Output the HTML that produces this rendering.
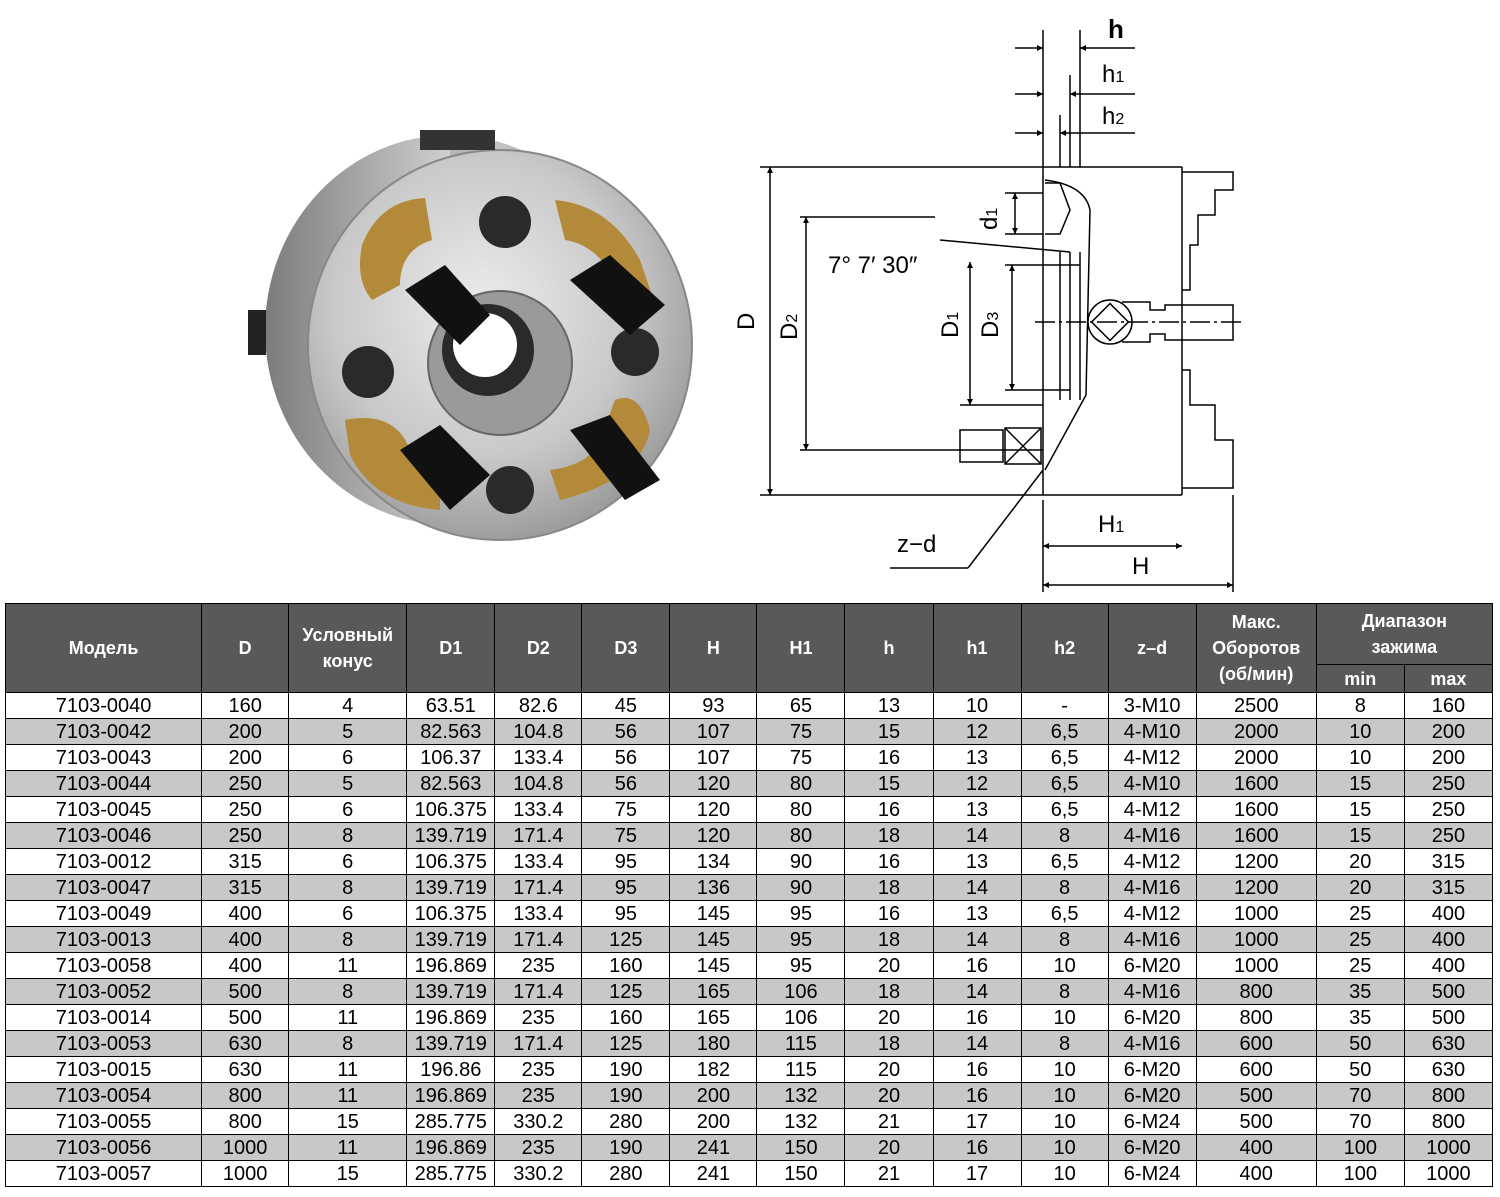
<!DOCTYPE html>
<html><head><meta charset="utf-8">
<style>
body{margin:0;width:1500px;height:1197px;background:#fff;position:relative;overflow:hidden;font-family:"Liberation Sans",Arial,sans-serif}
svg{position:absolute;left:0;top:0}
table{position:absolute;left:5px;top:603px;border-collapse:collapse;table-layout:fixed;width:1488px}
td,th{border:1.6px solid #000;text-align:center;padding:0;font-size:20px;line-height:22px;color:#000;white-space:nowrap;overflow:hidden}
tr.d{height:26px}
th{background:#595959;color:#fff;font-weight:bold;font-size:18px;line-height:26px}
tr.g td{background:#c8c8c8}
</style></head><body>
<svg width="1500" height="600" viewBox="0 0 1500 600">
<defs>
<radialGradient id="face" cx="45%" cy="40%" r="65%"><stop offset="0" stop-color="#ececec"/><stop offset="0.6" stop-color="#c8c8c8"/><stop offset="1" stop-color="#949494"/></radialGradient>
<linearGradient id="side" x1="0" y1="0" x2="1" y2="0"><stop offset="0" stop-color="#7c7c7c"/><stop offset="0.5" stop-color="#cfcfcf"/><stop offset="1" stop-color="#a0a0a0"/></linearGradient>
<marker id="a" viewBox="0 0 10 10" refX="10" refY="5" markerWidth="10" markerHeight="6" orient="auto-start-reverse" markerUnits="userSpaceOnUse"><path d="M0,0 L10,5 L0,10Z" fill="#000"/></marker>
</defs>
<!-- photo -->
<ellipse cx="450" cy="330" rx="185" ry="195" fill="url(#side)"/>
<polygon points="450,135 505,152 505,540 450,525" fill="#b5b5b5"/>
<ellipse cx="500" cy="345" rx="192" ry="195" fill="url(#face)" stroke="#888" stroke-width="2"/>
<path d="M362,245 Q380,200 425,198 L432,240 Q400,250 400,285 L372,300 Q355,280 362,245Z" fill="#b38a3a"/>
<path d="M555,200 Q610,205 640,260 L652,295 L620,290 Q600,245 565,240Z" fill="#b38a3a"/>
<path d="M345,420 Q395,410 410,450 L440,470 L440,510 Q375,505 350,455Z" fill="#b38a3a"/>
<path d="M615,400 Q640,390 650,430 Q640,480 560,500 L550,470 Q590,465 600,440Z" fill="#b38a3a"/>
<circle cx="505" cy="222" r="26" fill="#2a2a2a"/>
<circle cx="368" cy="372" r="26" fill="#2a2a2a"/>
<circle cx="635" cy="352" r="24" fill="#2a2a2a"/>
<circle cx="510" cy="490" r="24" fill="#2a2a2a"/>
<circle cx="500" cy="363" r="72" fill="#9a9a9a" stroke="#666" stroke-width="2"/>
<circle cx="488" cy="350" r="46" fill="#2a2a2a"/>
<circle cx="485" cy="345" r="32" fill="#fff"/>
<g fill="#111">
<polygon points="405,290 445,265 490,315 460,345"/>
<polygon points="570,280 610,255 665,305 630,335"/>
<polygon points="400,450 440,425 490,475 450,510"/>
<polygon points="570,430 610,415 660,480 625,500"/>
</g>
<rect x="248" y="310" width="18" height="45" fill="#222"/>
<rect x="420" y="130" width="75" height="20" fill="#333"/>
<!-- drawing -->
<g stroke="#000" stroke-width="1.5" fill="none">
<line x1="760" y1="167" x2="1182" y2="167"/>
<line x1="760" y1="495" x2="1182" y2="495"/>
<line x1="1043" y1="167" x2="1043" y2="495"/>
<line x1="1182" y1="167" x2="1182" y2="495"/>
<line x1="770" y1="167" x2="770" y2="495" marker-start="url(#a)" marker-end="url(#a)"/>
<line x1="800" y1="217" x2="935" y2="217"/>
<line x1="800" y1="450" x2="1043" y2="450"/>
<line x1="806" y1="217" x2="806" y2="450" marker-start="url(#a)" marker-end="url(#a)"/>
<line x1="960" y1="405" x2="1043" y2="405"/>
<line x1="970" y1="262" x2="970" y2="405" marker-start="url(#a)" marker-end="url(#a)"/>
<line x1="1005" y1="265" x2="1080" y2="265"/>
<line x1="1005" y1="390" x2="1070" y2="390"/>
<line x1="1012" y1="265" x2="1012" y2="390" marker-start="url(#a)" marker-end="url(#a)"/>
<line x1="1005" y1="193" x2="1043" y2="193"/>
<line x1="1005" y1="234" x2="1043" y2="234"/>
<line x1="1015" y1="193" x2="1015" y2="234" marker-start="url(#a)" marker-end="url(#a)"/>
<path d="M1045,183 L1060,183 L1070,210 L1060,234 L1045,234"/>
<path d="M1045,180 Q1085,185 1090,210 L1086,395 L1045,470"/>
<line x1="1060" y1="252" x2="1060" y2="400"/>
<line x1="1070" y1="252" x2="1070" y2="400"/>
<line x1="1080" y1="252" x2="1080" y2="400"/>
<line x1="940" y1="240" x2="1070" y2="252"/>
<line x1="1043" y1="30" x2="1043" y2="167"/>
<line x1="1080" y1="30" x2="1080" y2="167"/>
<line x1="1070" y1="75" x2="1070" y2="167"/>
<line x1="1060" y1="115" x2="1060" y2="167"/>
<line x1="1015" y1="48" x2="1043" y2="48" marker-end="url(#a)"/><line x1="1135" y1="48" x2="1080" y2="48" marker-end="url(#a)"/>
<line x1="1015" y1="94" x2="1043" y2="94" marker-end="url(#a)"/><line x1="1135" y1="94" x2="1070" y2="94" marker-end="url(#a)"/>
<line x1="1015" y1="133" x2="1043" y2="133" marker-end="url(#a)"/><line x1="1135" y1="133" x2="1060" y2="133" marker-end="url(#a)"/>
<path d="M1182,172 L1233,172 L1233,190 L1215,190 L1215,215 L1198,215 L1198,245 L1190,245 L1190,290 L1182,290"/>
<path d="M1182,370 L1190,370 L1190,405 L1215,405 L1215,440 L1233,440 L1233,488 L1182,488"/>
<circle cx="1110" cy="322" r="22"/>
<rect x="1097" y="309" width="26" height="26" transform="rotate(45 1110 322)"/>
<path d="M1122,302 L1150,302 L1150,310 L1165,310 L1165,305 L1233,305 L1233,340 L1165,340 L1165,334 L1150,334 L1150,342 L1122,342"/>
<line x1="1035" y1="322" x2="1245" y2="322" stroke-dasharray="20 4 3 4"/>
<rect x="960" y="430" width="43" height="32"/>
<rect x="1005" y="428" width="36" height="36"/>
<line x1="1005" y1="428" x2="1041" y2="464"/><line x1="1041" y1="428" x2="1005" y2="464"/>
<line x1="1043" y1="470" x2="968" y2="568"/>
<line x1="968" y1="568" x2="890" y2="568"/>
<line x1="1043" y1="500" x2="1043" y2="592"/>
<line x1="1233" y1="495" x2="1233" y2="592"/>
<line x1="1043" y1="546" x2="1182" y2="546" marker-start="url(#a)" marker-end="url(#a)"/>
<line x1="1043" y1="585" x2="1233" y2="585" marker-start="url(#a)" marker-end="url(#a)"/>
</g>
<g fill="#000" font-family="Liberation Sans,Arial,sans-serif" font-size="24">
<text x="1108" y="38" font-weight="bold" font-size="26">h</text>
<text x="1102" y="82">h<tspan font-size="16">1</tspan></text>
<text x="1102" y="124">h<tspan font-size="16">2</tspan></text>
<text x="828" y="273">7°  7′ 30″</text>
<text x="1098" y="532">H<tspan font-size="16">1</tspan></text>
<text x="1132" y="574">H</text>
<text x="897" y="552">z−d</text>
<text transform="translate(754 330) rotate(-90)">D</text>
<text transform="translate(797 340) rotate(-90)">D<tspan font-size="16">2</tspan></text>
<text transform="translate(958 338) rotate(-90)">D<tspan font-size="16">1</tspan></text>
<text transform="translate(998 338) rotate(-90)">D<tspan font-size="16">3</tspan></text>
<text transform="translate(997 230) rotate(-90)">d<tspan font-size="16">1</tspan></text>
</g>
</svg>
<table>
<colgroup><col style="width:196px"><col style="width:87px"><col style="width:118px"><col style="width:88px"><col style="width:87px"><col style="width:88px"><col style="width:87px"><col style="width:88px"><col style="width:88px"><col style="width:88px"><col style="width:87px"><col style="width:88px"><col style="width:120px"><col style="width:88px"><col style="width:88px"></colgroup>
<tr style="height:61px"><th rowspan="2">Модель</th><th rowspan="2">D</th><th rowspan="2">Условный<br>конус</th><th rowspan="2">D1</th><th rowspan="2">D2</th><th rowspan="2">D3</th><th rowspan="2">H</th><th rowspan="2">H1</th><th rowspan="2">h</th><th rowspan="2">h1</th><th rowspan="2">h2</th><th rowspan="2">z–d</th><th rowspan="2">Макс.<br>Оборотов<br>(об/мин)</th><th colspan="2">Диапазон<br>зажима</th></tr>
<tr style="height:28px"><th>min</th><th>max</th></tr>
<tr class="d"><td>7103-0040</td><td>160</td><td>4</td><td>63.51</td><td>82.6</td><td>45</td><td>93</td><td>65</td><td>13</td><td>10</td><td>-</td><td>3-M10</td><td>2500</td><td>8</td><td>160</td></tr>
<tr class="d g"><td>7103-0042</td><td>200</td><td>5</td><td>82.563</td><td>104.8</td><td>56</td><td>107</td><td>75</td><td>15</td><td>12</td><td>6,5</td><td>4-M10</td><td>2000</td><td>10</td><td>200</td></tr>
<tr class="d"><td>7103-0043</td><td>200</td><td>6</td><td>106.37</td><td>133.4</td><td>56</td><td>107</td><td>75</td><td>16</td><td>13</td><td>6,5</td><td>4-M12</td><td>2000</td><td>10</td><td>200</td></tr>
<tr class="d g"><td>7103-0044</td><td>250</td><td>5</td><td>82.563</td><td>104.8</td><td>56</td><td>120</td><td>80</td><td>15</td><td>12</td><td>6,5</td><td>4-M10</td><td>1600</td><td>15</td><td>250</td></tr>
<tr class="d"><td>7103-0045</td><td>250</td><td>6</td><td>106.375</td><td>133.4</td><td>75</td><td>120</td><td>80</td><td>16</td><td>13</td><td>6,5</td><td>4-M12</td><td>1600</td><td>15</td><td>250</td></tr>
<tr class="d g"><td>7103-0046</td><td>250</td><td>8</td><td>139.719</td><td>171.4</td><td>75</td><td>120</td><td>80</td><td>18</td><td>14</td><td>8</td><td>4-M16</td><td>1600</td><td>15</td><td>250</td></tr>
<tr class="d"><td>7103-0012</td><td>315</td><td>6</td><td>106.375</td><td>133.4</td><td>95</td><td>134</td><td>90</td><td>16</td><td>13</td><td>6,5</td><td>4-M12</td><td>1200</td><td>20</td><td>315</td></tr>
<tr class="d g"><td>7103-0047</td><td>315</td><td>8</td><td>139.719</td><td>171.4</td><td>95</td><td>136</td><td>90</td><td>18</td><td>14</td><td>8</td><td>4-M16</td><td>1200</td><td>20</td><td>315</td></tr>
<tr class="d"><td>7103-0049</td><td>400</td><td>6</td><td>106.375</td><td>133.4</td><td>95</td><td>145</td><td>95</td><td>16</td><td>13</td><td>6,5</td><td>4-M12</td><td>1000</td><td>25</td><td>400</td></tr>
<tr class="d g"><td>7103-0013</td><td>400</td><td>8</td><td>139.719</td><td>171.4</td><td>125</td><td>145</td><td>95</td><td>18</td><td>14</td><td>8</td><td>4-M16</td><td>1000</td><td>25</td><td>400</td></tr>
<tr class="d"><td>7103-0058</td><td>400</td><td>11</td><td>196.869</td><td>235</td><td>160</td><td>145</td><td>95</td><td>20</td><td>16</td><td>10</td><td>6-M20</td><td>1000</td><td>25</td><td>400</td></tr>
<tr class="d g"><td>7103-0052</td><td>500</td><td>8</td><td>139.719</td><td>171.4</td><td>125</td><td>165</td><td>106</td><td>18</td><td>14</td><td>8</td><td>4-M16</td><td>800</td><td>35</td><td>500</td></tr>
<tr class="d"><td>7103-0014</td><td>500</td><td>11</td><td>196.869</td><td>235</td><td>160</td><td>165</td><td>106</td><td>20</td><td>16</td><td>10</td><td>6-M20</td><td>800</td><td>35</td><td>500</td></tr>
<tr class="d g"><td>7103-0053</td><td>630</td><td>8</td><td>139.719</td><td>171.4</td><td>125</td><td>180</td><td>115</td><td>18</td><td>14</td><td>8</td><td>4-M16</td><td>600</td><td>50</td><td>630</td></tr>
<tr class="d"><td>7103-0015</td><td>630</td><td>11</td><td>196.86</td><td>235</td><td>190</td><td>182</td><td>115</td><td>20</td><td>16</td><td>10</td><td>6-M20</td><td>600</td><td>50</td><td>630</td></tr>
<tr class="d g"><td>7103-0054</td><td>800</td><td>11</td><td>196.869</td><td>235</td><td>190</td><td>200</td><td>132</td><td>20</td><td>16</td><td>10</td><td>6-M20</td><td>500</td><td>70</td><td>800</td></tr>
<tr class="d"><td>7103-0055</td><td>800</td><td>15</td><td>285.775</td><td>330.2</td><td>280</td><td>200</td><td>132</td><td>21</td><td>17</td><td>10</td><td>6-M24</td><td>500</td><td>70</td><td>800</td></tr>
<tr class="d g"><td>7103-0056</td><td>1000</td><td>11</td><td>196.869</td><td>235</td><td>190</td><td>241</td><td>150</td><td>20</td><td>16</td><td>10</td><td>6-M20</td><td>400</td><td>100</td><td>1000</td></tr>
<tr class="d"><td>7103-0057</td><td>1000</td><td>15</td><td>285.775</td><td>330.2</td><td>280</td><td>241</td><td>150</td><td>21</td><td>17</td><td>10</td><td>6-M24</td><td>400</td><td>100</td><td>1000</td></tr>
</table>
</body></html>
